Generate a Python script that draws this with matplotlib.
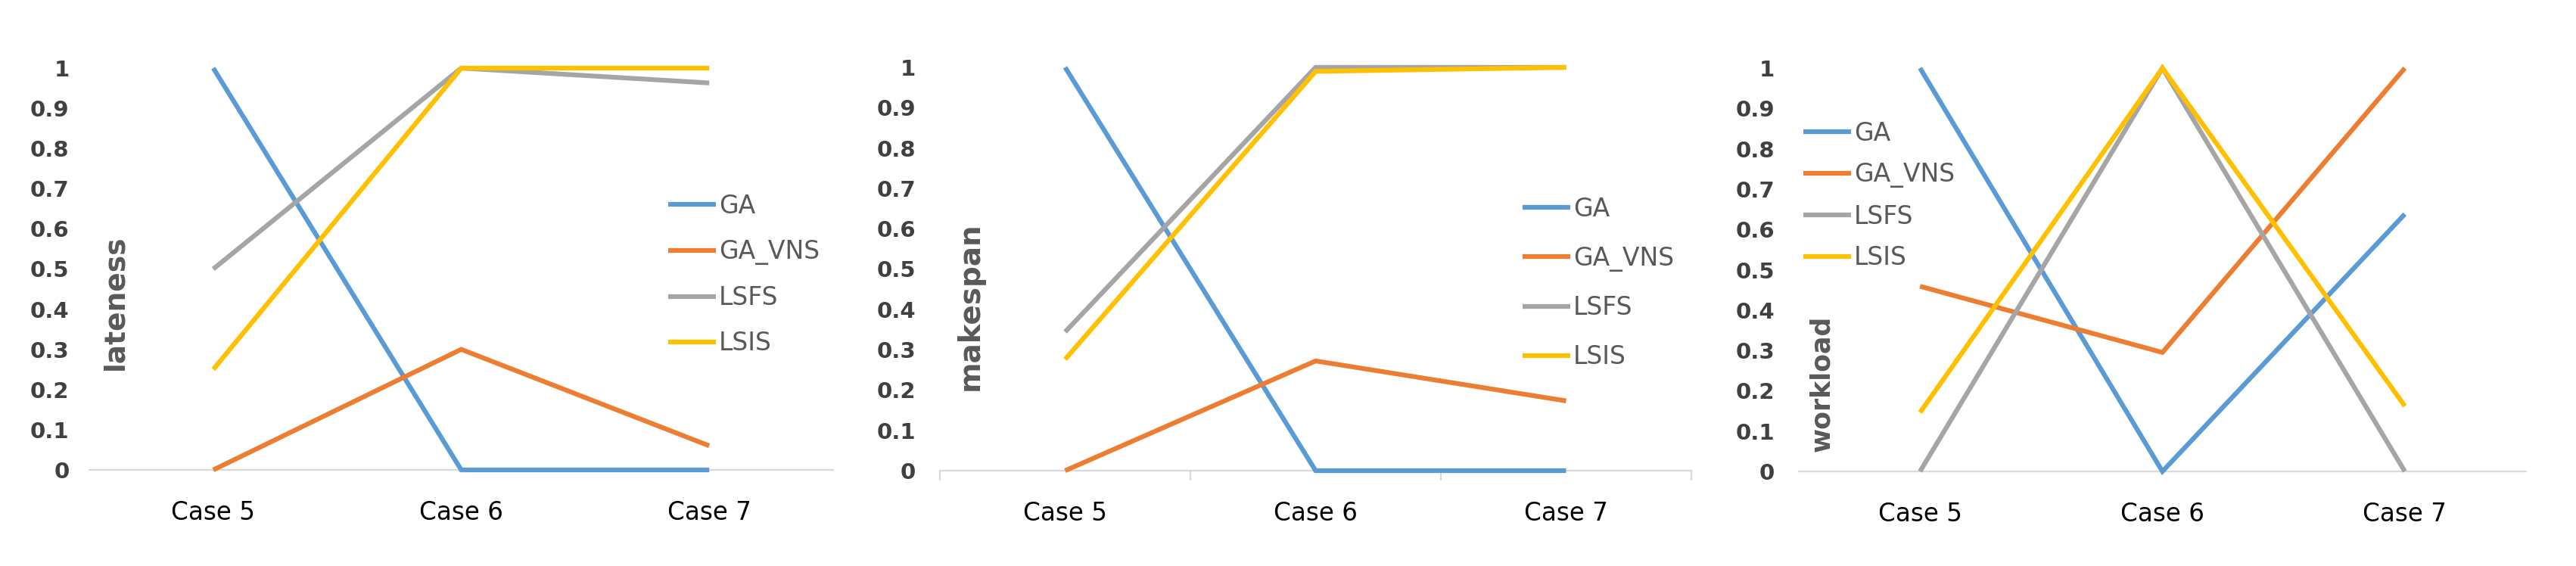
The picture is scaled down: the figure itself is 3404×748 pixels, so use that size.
import numpy as np
import matplotlib
matplotlib.use('Agg')
import matplotlib.pyplot as plt

# categories and series
cases = ['Case 5', 'Case 6', 'Case 7']
series = ['GA', 'GA_VNS', 'LSFS', 'LSIS']
colors = ['#5B9BD5', '#ED7D31', '#A5A5A5', '#FFC000']

lateness_ga = [1.0, 0.0, 0.0]
lateness_ga_vns = [0.0, 0.30, 0.06]
lateness_lsfs = [0.5, 1.0, 0.963]
lateness_lsis = [0.25, 1.0, 1.0]

makespan_ga = [1.0, 0.0, 0.0]
makespan_ga_vns = [0.0, 0.272, 0.173]
makespan_lsfs = [0.344, 1.0, 1.0]
makespan_lsis = [0.276, 0.99, 1.0]

workload_ga = [1.0, 0.0, 0.638]
workload_ga_vns = [0.459, 0.295, 1.0]
workload_lsfs = [0.0, 1.0, 0.0]
workload_lsis = [0.146, 1.0, 0.162]

yticks = [0, 0.1, 0.2, 0.3, 0.4, 0.5, 0.6, 0.7, 0.8, 0.9, 1]
ytick_labels = ['0', '0.1', '0.2', '0.3', '0.4', '0.5', '0.6', '0.7', '0.8', '0.9', '1']

W, H = 3404, 748
fig = plt.figure(figsize=(W / 100, H / 100), dpi=100)

# panel boxes in pixels: left, right, top (y=1), bottom (y=0)
panels = [
    dict(name='lateness', data=[lateness_ga, lateness_ga_vns, lateness_lsfs, lateness_lsis],
         box=(118, 1101, 90, 621), ypad=19, lab=(0.035, 0.416), labsize=27,
         leg=(883, 256), legsp=0.82, ticks=False),
    dict(name='makespan', data=[makespan_ga, makespan_ga_vns, makespan_lsfs, makespan_lsis],
         box=(1242, 2235, 89, 622), ypad=23, lab=(0.040, 0.407), labsize=28,
         leg=(2012, 260), legsp=0.96, ticks=True),
    dict(name='workload', data=[workload_ga, workload_ga_vns, workload_lsfs, workload_lsis],
         box=(2377, 3338, 90, 623), ypad=23, lab=(0.032, 0.218), labsize=25,
         leg=(2383, 160), legsp=0.65, ticks=False),
]

x = np.arange(len(cases))

for p in panels:
    l, r, t, b = p['box']
    ax = fig.add_axes([l / W, (H - b) / H, (r - l) / W, (b - t) / H])
    for vals, name, c in zip(p['data'], series, colors):
        ax.plot(x, vals, color=c, lw=4.5, label=name, clip_on=False,
                solid_capstyle='butt', solid_joinstyle='miter')
    ax.set_xlim(-0.5, 2.5)
    ax.set_ylim(0, 1)
    for s in ['top', 'right', 'left']:
        ax.spines[s].set_visible(False)
    ax.spines['bottom'].set_color('#D9D9D9')
    ax.spines['bottom'].set_linewidth(1.6)
    ax.spines['bottom'].set_zorder(0)

    ax.set_yticks(yticks)
    ax.set_yticklabels(ytick_labels, fontsize=21, fontweight='bold', color='#404040')
    ax.tick_params(axis='y', length=0, pad=p['ypad'])

    ax.set_xticks(x)
    ax.set_xticklabels(cases, fontsize=23.5, color='black')
    ax.tick_params(axis='x', which='major', length=0, pad=29)
    if p['ticks']:
        ax.set_xticks([-0.5, 0.5, 1.5, 2.5], minor=True)
        ax.tick_params(axis='x', which='minor', length=9, width=1.6, color='#D9D9D9')
    else:
        ax.tick_params(axis='x', which='minor', length=0)

    ax.text(p['lab'][0], p['lab'][1], p['name'], transform=ax.transAxes,
            rotation=90, ha='center', va='center', fontsize=p['labsize'],
            fontweight='bold', color='#595959')

    lx, ly = p['leg']
    leg = ax.legend(loc='upper left', bbox_to_anchor=(lx / W, (H - ly) / H),
                    bbox_transform=fig.transFigure, frameon=False, fontsize=23.8,
                    borderpad=0, borderaxespad=0, handlelength=1.9,
                    handletextpad=0.12, labelspacing=p['legsp'])
    for txt in leg.get_texts():
        txt.set_color('#595959')

fig.savefig('out.png', dpi=100)
